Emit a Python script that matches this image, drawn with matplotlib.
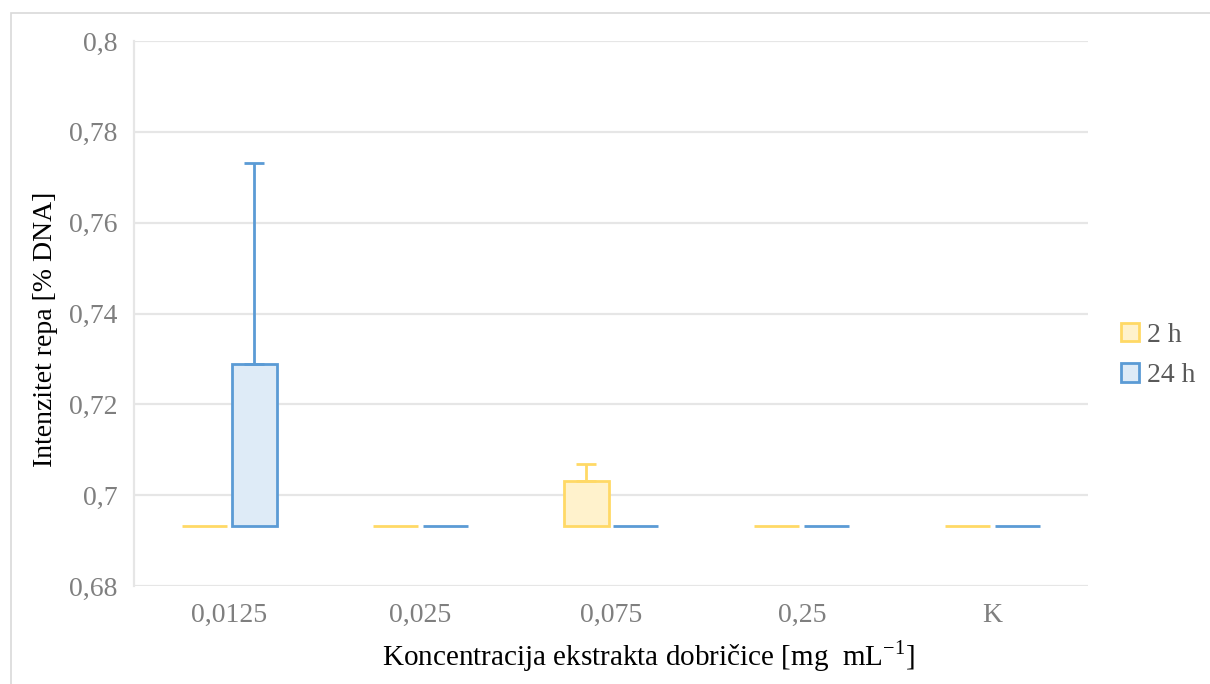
import numpy as np
import matplotlib
matplotlib.use("Agg")
import matplotlib.pyplot as plt
from matplotlib.patches import Rectangle

# -----------------------------
# Data
# -----------------------------
categories = ["0,0125", "0,025", "0,075", "0,25", "K"]
series_names = ["2 h", "24 h"]
base = 0.6933  # bars start at the horizontal axis crossing
values_2h = [0.6933, 0.6933, 0.7031, 0.6933, 0.6933]
values_24h = [0.7288, 0.6933, 0.6933, 0.6933, 0.6933]
err_2h = [0.0, 0.0, 0.0037, 0.0, 0.0]
err_24h = [0.0444, 0.0, 0.0, 0.0, 0.0]
yticks = [0.68, 0.70, 0.72, 0.74, 0.76, 0.78, 0.80]
ytick_labels = ["0,68", "0,7", "0,72", "0,74", "0,76", "0,78", "0,8"]

fill_colors = ["#FFF2CC", "#DEEBF7"]
edge_colors = ["#FFD966", "#5B9BD5"]
grid_col = "#E6E6E6"
tick_col = "#7F7F7F"

plt.rcParams["font.family"] = ["Liberation Serif", "DejaVu Serif"]

fig = plt.figure(figsize=(12.1, 6.84), dpi=100)
# outer chart border
fig.patches.append(Rectangle((11 / 1210, -0.01), 1.02, 1 - 13 / 684 + 0.01,
                             transform=fig.transFigure, fill=False,
                             edgecolor="#D9D9D9", linewidth=1.2))

ax = fig.add_axes([134 / 1210, 1 - 586 / 684, 954 / 1210, 545 / 684])

x = np.arange(len(categories))
w = 0.235
off = w / 2 + 0.013
for i, (vals, errs) in enumerate([(values_2h, err_2h), (values_24h, err_24h)]):
    pos = x - off if i == 0 else x + off
    heights = np.array(vals) - base
    ax.bar(pos, heights, width=w, bottom=base, color=fill_colors[i],
           edgecolor=edge_colors[i], linewidth=2, label=series_names[i], zorder=3)
    # only the bars with an error bar get one (upper side only)
    errs = np.array(errs)
    m = errs > 0
    ax.errorbar(pos[m], np.array(vals)[m], yerr=[np.zeros(m.sum()), errs[m]],
                fmt="none", ecolor=edge_colors[i], elinewidth=2, capsize=7,
                capthick=2, zorder=4)

ax.set_xlim(-0.5, len(categories) - 0.5)
ax.set_ylim(0.68, 0.80)
ax.set_yticks(yticks)
ax.set_yticklabels(ytick_labels)
ax.set_xticks(x)
ax.set_xticklabels(categories)
ax.tick_params(axis="both", length=0, labelsize=20, colors=tick_col)
ax.tick_params(axis="y", pad=12)
ax.tick_params(axis="x", pad=12)
ax.grid(axis="y", color=grid_col, linewidth=1.6, zorder=0)
ax.set_axisbelow(True)
for s in ["top", "right", "bottom"]:
    ax.spines[s].set_visible(False)
ax.spines["left"].set_color(grid_col)
ax.spines["left"].set_linewidth(1.6)

ax.set_ylabel("Intenzitet repa [% DNA]", fontsize=20, color="black")
ax.yaxis.set_label_coords(-0.080, 0.47)
ax.set_xlabel("Koncentracija ekstrakta dobričice [mg  mL$^{\\mathregular{-1}}$]",
              fontsize=21, color="black")
ax.xaxis.set_label_coords(0.539, -0.095)

leg = ax.legend(loc="center left", bbox_to_anchor=(1.008, 0.423), frameon=False,
                fontsize=20, handlelength=0.65, handleheight=0.65,
                handletextpad=0.3, labelspacing=0.55)
for t in leg.get_texts():
    t.set_color("#595959")

fig.savefig("out.png", dpi=100)
